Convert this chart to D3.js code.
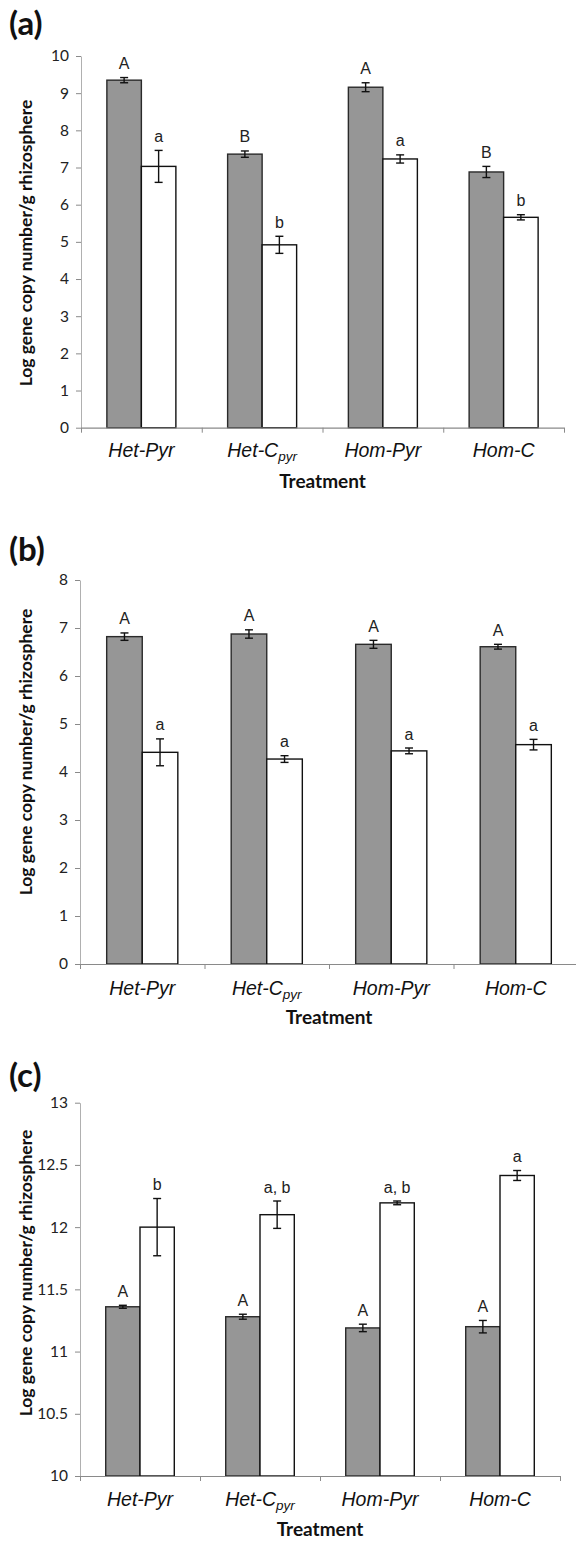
<!DOCTYPE html>
<html>
<head>
<meta charset="utf-8">
<script src="https://cdn.jsdelivr.net/npm/d3@7"></script>
<style>
  body { margin: 0; background: #fff; }
  svg { display: block; }
</style>
</head>
<body>
<div id="chart"></div>
<script>
// treatments (Het-C has a subscript "pyr")
let cat_main = ["Het-Pyr", "Het-C", "Hom-Pyr", "Hom-C"];
let cat_sub = ["", "pyr", "", ""];

// panel (a)
let a_gray = [9.35, 7.36, 9.16, 6.88];
let a_gray_err = [0.07, 0.085, 0.12, 0.15];
let a_white = [7.03, 4.92, 7.23, 5.66];
let a_white_err = [0.43, 0.23, 0.11, 0.07];
let a_gray_letters = ["A", "B", "A", "B"];
let a_white_letters = ["a", "b", "a", "b"];
let a_ticks = [0, 1, 2, 3, 4, 5, 6, 7, 8, 9, 10];

// panel (b)
let b_gray = [6.82, 6.875, 6.66, 6.61];
let b_gray_err = [0.077, 0.087, 0.083, 0.05];
let b_white = [4.41, 4.27, 4.44, 4.57];
let b_white_err = [0.28, 0.07, 0.06, 0.11];
let b_gray_letters = ["A", "A", "A", "A"];
let b_white_letters = ["a", "a", "a", "a"];
let b_ticks = [0, 1, 2, 3, 4, 5, 6, 7, 8];

// panel (c)
let c_gray = [11.36, 11.28, 11.19, 11.2];
let c_gray_err = [0.012, 0.02, 0.03, 0.05];
let c_white = [12.0, 12.1, 12.195, 12.415];
let c_white_err = [0.23, 0.11, 0.015, 0.04];
let c_gray_letters = ["A", "A", "A", "A"];
let c_white_letters = ["b", "a, b", "a, b", "a"];
let c_ticks = [10, 10.5, 11, 11.5, 12, 12.5, 13];

let svg = d3.select("#chart").append("svg")
  .attr("width", 576)
  .attr("height", 1541);

const axis_col = "#8a8a8a";

function draw_panel(p){
  let g = svg.append("g");

  let x = d3.scaleBand().domain(d3.range(4)).range([p.x0, p.x1]);
  let xs = d3.scaleBand().domain(["gray", "white"]).range([0, x.bandwidth()])
    .paddingInner(0).paddingOuter(0.75);
  let xedge = d3.scaleLinear().domain([0, 4]).range([p.x0, p.x1]);
  let y = d3.scaleLinear().domain([p.ticks[0], p.ticks[p.ticks.length - 1]]).range([p.y1, p.y0]);

  // title
  g.append("text")
    .attr("x", 9).attr("y", p.title_y)
    .style("font", "bold 33px Lato, 'Open Sans', sans-serif")
    .attr("fill", "#111")
    .text(p.title);

  // y axis
  let ya = g.append("g")
    .attr("transform", `translate(${p.x0},0)`)
    .call(d3.axisLeft(y).tickValues(p.ticks).tickSize(5).tickSizeOuter(0).tickPadding(7)
      .tickFormat(d => String(d)));
  ya.select(".domain").attr("stroke", "#b0b0b0");
  ya.selectAll(".tick line").attr("stroke", axis_col);
  ya.selectAll(".tick text")
    .style("font", "15.5px Lato, 'Open Sans', sans-serif")
    .attr("fill", "#222");

  // y title
  g.append("text")
    .attr("transform", `translate(${p.ytitle_x},${p.ytitle_y}) rotate(-90)`)
    .attr("text-anchor", "middle")
    .style("font", "bold 17.5px Lato, 'Open Sans', sans-serif")
    .attr("fill", "#111")
    .text("Log gene copy number/g rhizosphere");

  // bars
  let series = [
    {key: "gray", vals: p.gray, err: p.gray_err, letters: p.gray_letters, fill: "#969696", stroke: "#2a2a2a"},
    {key: "white", vals: p.white, err: p.white_err, letters: p.white_letters, fill: "#ffffff", stroke: "#111"}
  ];

  series.forEach(function(s){
    let sg = g.append("g");
    sg.selectAll("rect")
      .data(s.vals)
      .join("rect")
      .attr("x", (d, i) => x(i) + xs(s.key))
      .attr("y", d => y(d))
      .attr("width", xs.bandwidth())
      .attr("height", d => y(p.ticks[0]) - y(d))
      .attr("fill", s.fill)
      .attr("stroke", s.stroke)
      .attr("stroke-width", 1.4);

    // error bars
    let eb = sg.selectAll("g.err")
      .data(s.vals)
      .join("g")
      .attr("class", "err")
      .attr("stroke", "#111")
      .attr("stroke-width", 1.4);
    eb.append("line")
      .attr("x1", (d, i) => x(i) + xs(s.key) + xs.bandwidth() / 2)
      .attr("x2", (d, i) => x(i) + xs(s.key) + xs.bandwidth() / 2)
      .attr("y1", (d, i) => y(d + s.err[i]))
      .attr("y2", (d, i) => y(d - s.err[i]));
    [1, -1].forEach(function(sign){
      eb.append("line")
        .attr("x1", (d, i) => x(i) + xs(s.key) + xs.bandwidth() / 2 - 4)
        .attr("x2", (d, i) => x(i) + xs(s.key) + xs.bandwidth() / 2 + 4)
        .attr("y1", (d, i) => y(d + sign * s.err[i]))
        .attr("y2", (d, i) => y(d + sign * s.err[i]));
    });

    // significance letters
    sg.selectAll("text")
      .data(s.vals)
      .join("text")
      .attr("x", (d, i) => x(i) + xs(s.key) + xs.bandwidth() / 2)
      .attr("y", (d, i) => y(d + s.err[i]) - 8.5)
      .attr("text-anchor", "middle")
      .style("font", "16px 'Liberation Sans', Arial, sans-serif")
      .attr("fill", "#222")
      .text((d, i) => s.letters[i]);
  });

  // x axis, ticks on the category edges
  let xa = g.append("g")
    .attr("transform", `translate(0,${p.y1})`)
    .call(d3.axisBottom(xedge).tickValues([0, 1, 2, 3, 4]).tickSize(5).tickSizeOuter(0).tickFormat(""));
  xa.select(".domain").attr("stroke", axis_col).attr("stroke-width", 1.2);
  xa.selectAll(".tick line").attr("stroke", axis_col);

  // category labels
  let labels = g.append("g")
    .selectAll("text")
    .data(cat_main)
    .join("text")
    .attr("x", (d, i) => x(i) + x.bandwidth() / 2)
    .attr("y", p.y1 + p.lab_dy)
    .attr("text-anchor", "middle")
    .style("font", "italic 19.5px 'Liberation Sans', Arial, sans-serif")
    .attr("fill", "#111");
  labels.append("tspan").text(d => d);
  labels.append("tspan")
    .attr("dy", 4)
    .style("font-size", "13.5px")
    .text((d, i) => cat_sub[i]);

  // x title
  g.append("text")
    .attr("x", (p.x0 + p.x1) / 2)
    .attr("y", p.y1 + 60)
    .attr("text-anchor", "middle")
    .style("font", "bold 19px Lato, 'Open Sans', sans-serif")
    .attr("fill", "#111")
    .text("Treatment");
}

draw_panel({
  title: "(a)", title_y: 35,
  x0: 81, x1: 564, y0: 56, y1: 427.7,
  ticks: a_ticks, ytitle_x: 32, ytitle_y: 243, lab_dy: 29,
  gray: a_gray, gray_err: a_gray_err, white: a_white, white_err: a_white_err,
  gray_letters: a_gray_letters, white_letters: a_white_letters
});

draw_panel({
  title: "(b)", title_y: 561,
  x0: 80, x1: 578, y0: 580, y1: 964,
  ticks: b_ticks, ytitle_x: 32, ytitle_y: 752, lab_dy: 31,
  gray: b_gray, gray_err: b_gray_err, white: b_white, white_err: b_white_err,
  gray_letters: b_gray_letters, white_letters: b_white_letters
});

draw_panel({
  title: "(c)", title_y: 1087,
  x0: 80, x1: 560, y0: 1102.7, y1: 1476,
  ticks: c_ticks, ytitle_x: 32, ytitle_y: 1273, lab_dy: 30,
  gray: c_gray, gray_err: c_gray_err, white: c_white, white_err: c_white_err,
  gray_letters: c_gray_letters, white_letters: c_white_letters
});
</script>
</body>
</html>
